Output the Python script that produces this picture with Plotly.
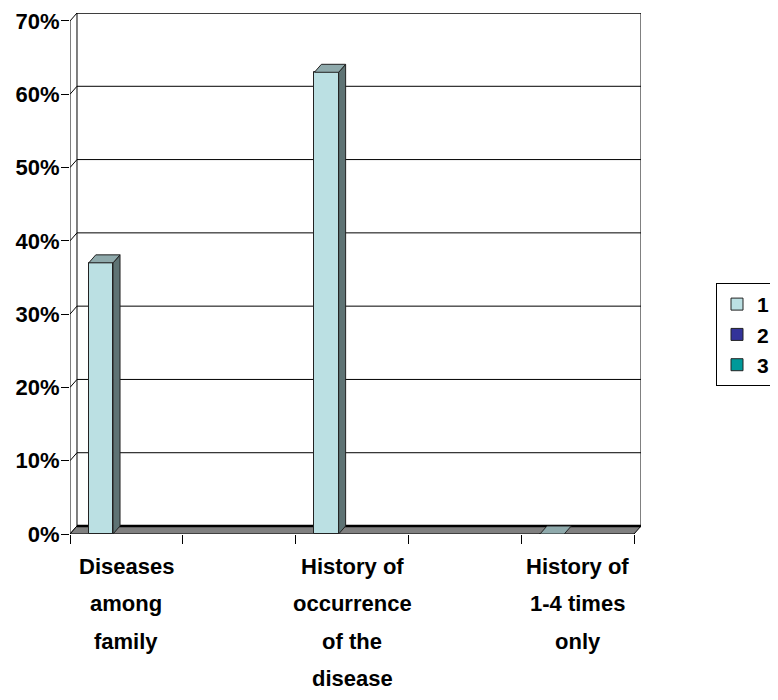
import plotly.graph_objects as go

# ---------------- data ----------------
categories = [
    "Diseases\namong\nfamily",
    "History of\noccurrence\nof the\ndisease",
    "History of\n1-4 times\nonly",
]
series_names = ["1", "2", "3"]
series_1 = [37, 63, 0]
series_2 = [None, None, None]
series_3 = [None, None, None]
y_tick_values = [0, 10, 20, 30, 40, 50, 60, 70]

# ---------------- styling / layout constants ----------------
FRONT = ["#BBE0E3", "#333399", "#009999"]
TOP = ["#8FAAAC", "#262673", "#007373"]
SIDE = ["#5E7374", "#1A1A4D", "#004D4D"]
FONT = "Liberation Sans"
cat_slots = [0, 2, 4]          # category slot index on the 5-slot axis
n_slots = 5
offsets = [-0.226, 0.0, 0.226]
BW = 0.215
DX, DY = 0.062, 1.09           # depth offset (data units)
YMAX = 70

fig = go.Figure()
all_series = [series_1, series_2, series_3]

for s, (name, vals) in enumerate(zip(series_names, all_series)):
    fig.add_trace(go.Bar(
        x=[p + offsets[s] for p in cat_slots], y=vals, width=BW, name=name,
        marker=dict(color=FRONT[s], line=dict(color="#222222", width=1)),
        hoverinfo="skip",
    ))

# 3-D faces of the bars, computed from the same values
for s, vals in enumerate(all_series):
    for p, v in zip(cat_slots, vals):
        if v is None:
            continue
        xl = p + offsets[s] - BW / 2
        xr = xl + BW
        if v > 0:
            fig.add_trace(go.Scatter(
                x=[xr, xr + DX, xr + DX, xr, xr], y=[0, DY, v + DY, v, 0],
                mode="lines", fill="toself", fillcolor=SIDE[s],
                line=dict(color="#222222", width=1), showlegend=False, hoverinfo="skip"))
        fig.add_trace(go.Scatter(
            x=[xl, xr, xr + DX, xl + DX, xl], y=[v, v, v + DY, v + DY, v],
            mode="lines", fill="toself", fillcolor=TOP[s],
            line=dict(color="#222222", width=1), showlegend=False, hoverinfo="skip"))

# walls, floor, gridlines
xl0, xr0 = -0.5, n_slots - 0.5
shapes = []
shapes.append(dict(type="rect", x0=xl0 + DX, x1=xr0 + DX, y0=DY, y1=YMAX + DY,
                   line=dict(color="black", width=1), fillcolor="white", layer="below"))
for v in y_tick_values[1:]:
    shapes.append(dict(type="line", x0=xl0 + DX, x1=xr0 + DX, y0=v + DY, y1=v + DY,
                       line=dict(color="black", width=1), layer="below"))
for v in y_tick_values:
    shapes.append(dict(type="line", x0=xl0, x1=xl0 + DX, y0=v, y1=v + DY,
                       line=dict(color="black", width=1), layer="below"))
shapes.append(dict(type="line", x0=xl0, x1=xl0, y0=0, y1=YMAX,
                   line=dict(color="black", width=1), layer="below"))
shapes.append(dict(type="path",
                   path=f"M {xl0},0 L {xr0},0 L {xr0 + DX},{DY} L {xl0 + DX},{DY} Z",
                   fillcolor="#808080", line=dict(color="black", width=1), layer="below"))
shapes.append(dict(type="line", x0=xl0 + DX, x1=xr0 + DX, y0=DY, y1=DY,
                   line=dict(color="black", width=2.5), layer="below"))

# category labels (one annotation per line to match spacing)
annotations = []
for p, cat in zip(cat_slots, categories):
    for j, line in enumerate(cat.split("\n")):
        annotations.append(dict(
            x=p, xref="x", y=0, yref="paper", yanchor="middle", xanchor="center",
            yshift=-32 - 37.5 * j, showarrow=False, text=line,
            font=dict(family=FONT, size=22, color="black", weight="bold")))

# page body adds an 8px offset, so figure size and margins are shifted accordingly
FIG_W, FIG_H = 762, 684
ML, MT = 62, 5
PLOT_W, PLOT_H = 571, 521
fig.update_layout(
    width=FIG_W, height=FIG_H,
    margin=dict(l=ML, r=FIG_W - ML - PLOT_W, t=MT, b=FIG_H - MT - PLOT_H, autoexpand=False),
    plot_bgcolor="white", paper_bgcolor="white",
    barmode="overlay", bargap=0,
    shapes=shapes, annotations=annotations,
    showlegend=True,
    legend=dict(x=(708 - ML) / PLOT_W, xanchor="left", y=0.383, yanchor="middle",
                bordercolor="black", borderwidth=1, bgcolor="white",
                font=dict(family=FONT, size=21, color="black", weight="bold"),
                tracegroupgap=0),
    xaxis=dict(range=[xl0, xr0 + DX], tickvals=[xl0 + i for i in range(n_slots + 1)],
               ticktext=[""] * (n_slots + 1), ticks="outside", ticklen=9,
               tickcolor="black", showgrid=False, zeroline=False, showline=False,
               fixedrange=True, automargin=False),
    yaxis=dict(range=[0, YMAX + DY], tickvals=y_tick_values,
               ticktext=[f"{v}%" for v in y_tick_values], ticks="outside", ticklen=8,
               tickcolor="black", showgrid=False, zeroline=False, showline=False,
               tickfont=dict(family=FONT, size=22, color="black", weight="bold"),
               ticklabelstandoff=-3,
               fixedrange=True, automargin=False),
)

fig.write_html("out.html")
